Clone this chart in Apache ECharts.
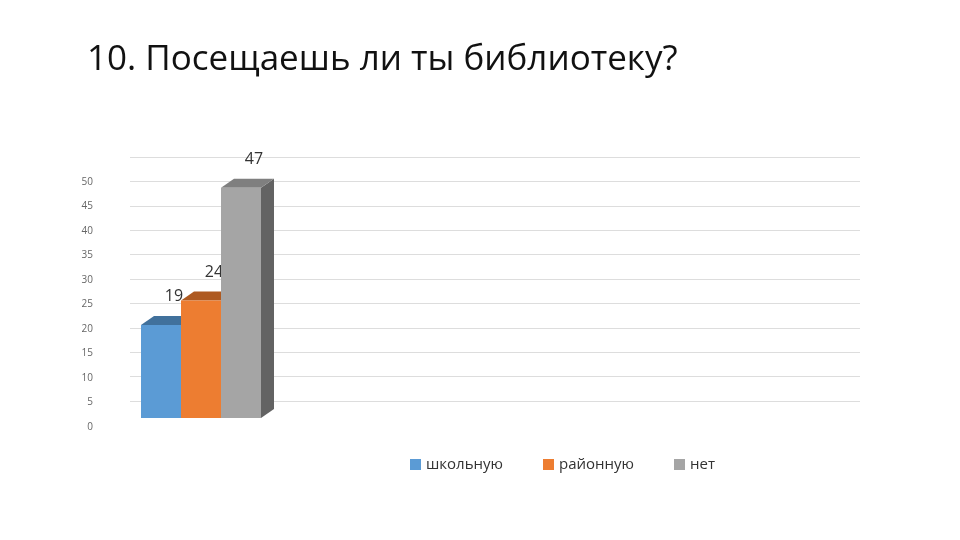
<!DOCTYPE html>
<html><head><meta charset="utf-8">
<script src="https://cdn.jsdelivr.net/npm/echarts@6/dist/echarts.min.js"></script>
<style>html,body{margin:0;background:#fff}#c{width:960px;height:540px}</style>
</head><body><div id="c"></div>
<script>
const categories = ["школьную", "районную", "нет"];
const values = [19, 24, 47];
const yTicks = [0, 5, 10, 15, 20, 25, 30, 35, 40, 45, 50];
const colors = ["#5B9BD5", "#ED7D31", "#A5A5A5"];
const topColors = ["#41719C", "#AE5A21", "#7F7F7F"];
const sideColors = ["#2F5F8A", "#8F4719", "#636363"];

const chart = echarts.init(document.getElementById("c"));
const DX = 13, DY = 9;

function bar3d(i) {
  return function (params, api) {
    const p = api.coord([api.value(0), api.value(1)]);
    const base = api.coord([api.value(0), 0]);
    const w = api.size([1, 0])[0];
    const x0 = p[0] - w / 2, x1 = p[0] + w / 2, y = p[1], yb = base[1];
    return {
      type: "group",
      children: [
        { type: "polygon", shape: { points: [[x1, y], [x1 + DX, y - DY], [x1 + DX, yb - DY], [x1, yb]] }, style: { fill: sideColors[i] } },
        { type: "polygon", shape: { points: [[x0, y], [x0 + DX, y - DY], [x1 + DX, y - DY], [x1, y]] }, style: { fill: topColors[i] } },
        { type: "rect", shape: { x: x0, y: y, width: w, height: yb - y }, style: { fill: colors[i] } },
        { type: "text", style: { text: String(api.value(1)), x: p[0] + DX, y: y - 28, align: "center", verticalAlign: "middle", font: "16px 'Open Sans'", fill: "#333" } }
      ]
    };
  };
}

chart.setOption({
  animation: false,
  title: { text: "10. Посещаешь ли ты библиотеку?", left: 82, top: 38,
    textStyle: { fontFamily: "Open Sans", fontSize: 35, fontWeight: "normal", color: "#111" } },
  legend: { data: categories, icon: "rect", left: 405, top: 452, itemWidth: 11, itemHeight: 11, itemGap: 40,
    textStyle: { fontFamily: "Open Sans", fontSize: 15, color: "#333", width: 80 } },
  grid: [
    { left: 20, right: 863, top: 182, bottom: 113 },
    { left: 130, right: 100, top: 157, bottom: 139 },
    { left: 141, right: 699, top: 173, bottom: 122 }
  ],
  xAxis: [
    { gridIndex: 0, type: "category", data: [""], show: false },
    { gridIndex: 1, type: "category", data: [""], show: false },
    { gridIndex: 2, type: "category", data: categories, show: false }
  ],
  yAxis: [
    { gridIndex: 0, type: "value", min: 0, max: 50, interval: 5, position: "right",
      axisLabel: { margin: -4, align: "right", color: "#666", fontSize: 10, fontFamily: "Open Sans" },
      axisLine: { show: false }, axisTick: { show: false }, splitLine: { show: false } },
    { gridIndex: 1, type: "value", min: 0, max: 50, interval: 5, axisLabel: { show: false },
      axisLine: { show: false }, axisTick: { show: false }, splitLine: { lineStyle: { color: "#ddd" } } },
    { gridIndex: 2, type: "value", min: 0, max: 50, show: false }
  ],
  series: categories.map((name, i) => ({
    type: "custom", name: name, xAxisIndex: 2, yAxisIndex: 2,
    itemStyle: { color: colors[i] },
    renderItem: bar3d(i),
    data: [[i, values[i]]]
  }))
});
</script></body></html>
